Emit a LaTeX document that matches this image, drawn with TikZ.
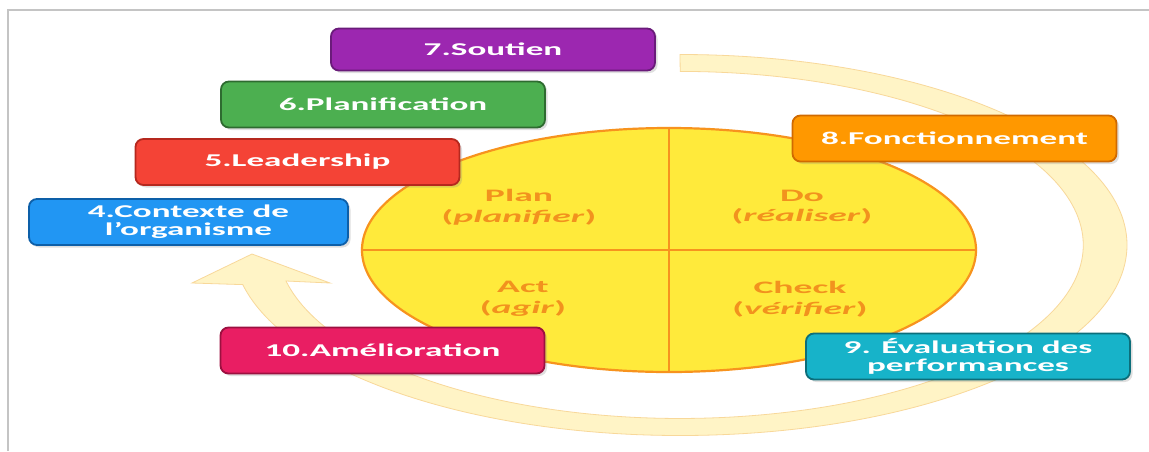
\documentclass[tikz,border=0pt]{standalone}
\usepackage{fontspec}
\usepackage{graphicx}
\usetikzlibrary{shapes.geometric,shadows}
\newfontfamily\boxfont{Carlito}[FakeStretch=1.95]
\newfontfamily\pdcafont{Carlito}[FakeStretch=2.15]
\definecolor{bandfill}{HTML}{FFF4C6}
\definecolor{bandedge}{HTML}{F8D89A}
\definecolor{ellfill}{HTML}{FFEA3B}
\definecolor{ellline}{HTML}{F7931E}
\definecolor{ptext}{HTML}{F2921E}
\definecolor{cpurple}{HTML}{9C27B0}\definecolor{dpurple}{HTML}{6A1B7A}
\definecolor{cgreen}{HTML}{4CAF50}\definecolor{dgreen}{HTML}{2E6B30}
\definecolor{cred}{HTML}{F44336}\definecolor{dred}{HTML}{B5281E}
\definecolor{cblue}{HTML}{2196F3}\definecolor{dblue}{HTML}{0D5FA8}
\definecolor{cpink}{HTML}{E91E63}\definecolor{dpink}{HTML}{9C1040}
\definecolor{corange}{HTML}{FF9800}\definecolor{dorange}{HTML}{D06A00}
\definecolor{cteal}{HTML}{17B3C9}\definecolor{dteal}{HTML}{0C6E7A}
\definecolor{framegray}{HTML}{C4C4C4}
\begin{document}
\begin{tikzpicture}[x=1pt,y=-1pt,
  stepbox/.style={rounded corners=8pt, line width=1.8pt, minimum width=324pt,
    minimum height=46pt, inner sep=0pt, text=white, align=center,
    font=\boxfont\bfseries\fontsize{18}{18}\selectfont,
    drop shadow={opacity=0.25, shadow xshift=2.5pt, shadow yshift=-2.5pt}},
  pdcatext/.style={text=ptext, align=center, inner sep=0pt,
    font=\pdcafont\bfseries\fontsize{17.5}{20.5}\selectfont}]
\useasboundingbox (0,0) rectangle (1149,451);
\fill[white] (0,0) rectangle (1149,451);
% frame
\draw[framegray, line width=1.2pt] (8,451) -- (8,10) -- (1149,10);
% big cycle band with arrow
\filldraw[fill=bandfill, draw=bandedge, line width=0.8pt]
  (680,54.5) arc[start angle=-90, end angle=168, x radius=447, y radius=190.5]
  -- (192,283) -- (252,254) -- (330,283) -- (286,281)
  arc[start angle=168, end angle=-90, x radius=403, y radius=173.5] -- cycle;
% PDCA ellipse
\node[ellipse, draw=ellline, fill=ellfill, line width=2.2pt, minimum width=614pt,
  minimum height=244pt, inner sep=0pt] (pdca) at (669,250) {};
\draw[ellline, line width=2.4pt] (pdca.north) -- (pdca.south);
\draw[ellline, line width=2.4pt] (pdca.west) -- (pdca.east);
\node[pdcatext] (plan) at (519,207) {Plan\\(\textit{planifier})};
\node[pdcatext] (do) at (802,207) {Do\\(\textit{réaliser})};
\node[pdcatext] (act) at (523,299) {Act\\(\textit{agir})};
\node[pdcatext] (check) at (800,299) {Check\\(\textit{vérifier})};
% boxes
\node[stepbox, fill=cpurple, draw=dpurple, minimum height=42pt] (s7) at (493,49.5) {7.Soutien};
\node[stepbox, fill=cgreen, draw=dgreen] (s6) at (383,104.5) {6.Planification};
\node[stepbox, fill=cred, draw=dred] (s5) at (297.5,162) {5.Leadership};
\node[stepbox, fill=cblue, draw=dblue, minimum width=319pt] (s4) at (188.5,222)
  {\fontsize{18}{19.5}\selectfont 4.Contexte de\\l’organisme};
\node[stepbox, fill=cpink, draw=dpink] (s10) at (382.5,350.5) {10.Amélioration};
\node[stepbox, fill=corange, draw=dorange] (s8) at (954.5,138.5) {8.Fonctionnement};
\node[stepbox, fill=cteal, draw=dteal] (s9) at (968,356.5)
  {\fontsize{18}{18.5}\selectfont 9. Évaluation des\\performances};
\end{tikzpicture}
\end{document}
